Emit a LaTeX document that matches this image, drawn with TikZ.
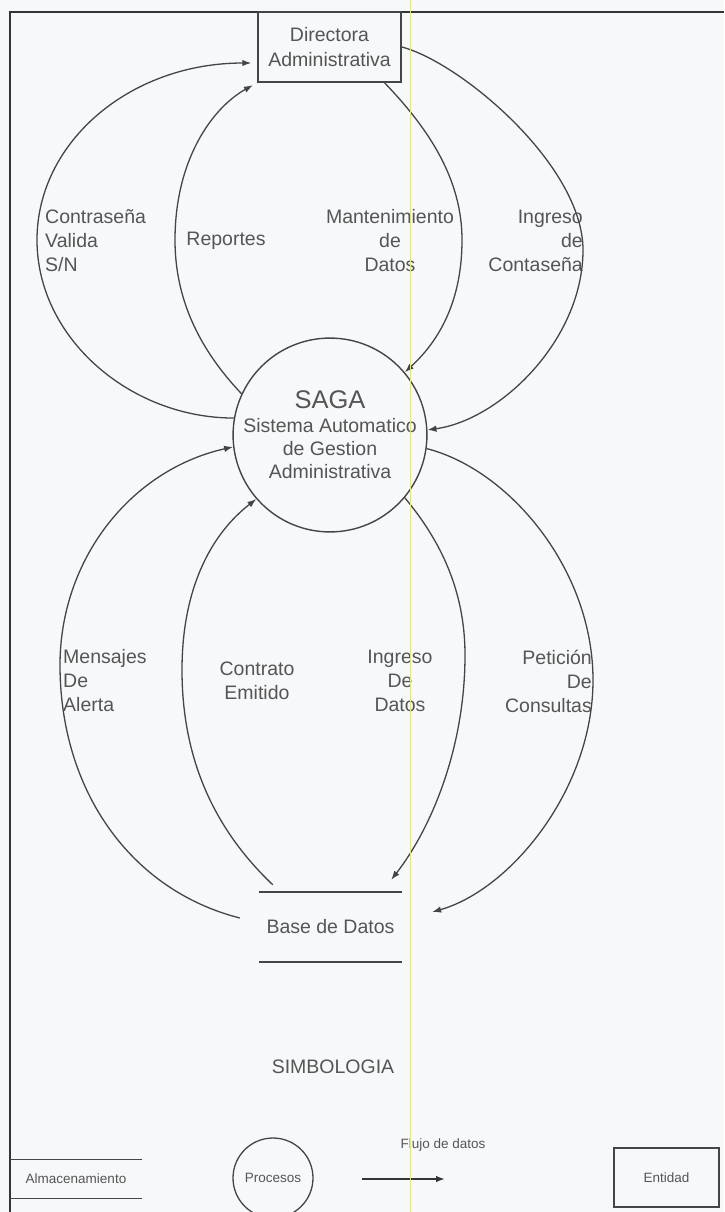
\documentclass[tikz,border=0pt]{standalone}
\usepackage{fontspec}
\setmainfont{Liberation Sans}
\usetikzlibrary{arrows.meta,calc}

\definecolor{paper}{HTML}{F7F8FA}
\definecolor{ink}{HTML}{454545}
\definecolor{txt}{HTML}{555555}
\definecolor{framec}{HTML}{353535}
\definecolor{scanline}{HTML}{EEEE30}

\tikzset{
  flow/.style={draw=ink, line width=1.3pt, -{Latex[length=9pt,width=6.5pt]}},
  lbl/.style={text=txt, inner sep=0pt, font=\fontsize{19.5}{24}\selectfont},
  smalllbl/.style={text=txt, inner sep=0pt, font=\fontsize{13.5}{16}\selectfont},
  entitybox/.style={draw=ink, line width=1.5pt, inner sep=0pt, text=txt},
  procnode/.style={circle, draw=ink, line width=1.4pt, inner sep=0pt, text=txt},
  storenode/.style={inner sep=0pt, text=txt},
  storeline/.style={draw=ink, line width=1.5pt},
  framel/.style={draw=framec, line width=1.8pt}
}

\begin{document}
\begin{tikzpicture}[x=1pt, y=-1pt]
  % page
  \fill[paper] (0,0) rectangle (724,1212);
  \useasboundingbox (0,0) rectangle (724,1212);

  % outer frame (top and left edges only)
  \draw[framel] (724,12) -- (10,12) -- (10,1212);

  % ---- main nodes ----
  \node[entitybox, minimum width=143pt, minimum height=70pt, align=center,
        font=\fontsize{19.5}{25}\selectfont] (dir) at (329.5,47)
        {Directora\\Administrativa};

  \node[procnode, minimum size=192pt, align=center,
        font=\fontsize{19.5}{23}\selectfont] (saga) at (330,435)
        {{\fontsize{25.5}{27}\selectfont SAGA}\\[1pt]Sistema Automatico\\de Gestion\\Administrativa};

  \node[storenode, minimum width=143pt, minimum height=70pt,
        font=\fontsize{19.5}{24}\selectfont] (bd) at (330.5,927) {Base de Datos};
  \draw[storeline] (bd.north west) -- (bd.north east);
  \draw[storeline] (bd.south west) -- (bd.south east);

  % ---- flows between the entity and the process ----
  \draw[flow, shorten >=6pt] (saga.170)
     .. controls (130,418) and (37,338) .. (37,240)
     .. controls (37,142) and (130,63) .. ([yshift=-16pt]dir.west);
  \draw[flow, shorten >=5pt] (saga.155)
     .. controls (200,350) and (175,300) .. (175,240)
     .. controls (175,160) and (212,108) .. (dir.south west);
  \draw[flow] ([xshift=55pt]dir.south)
     .. controls (430,130) and (462,180) .. (462,240)
     .. controls (462,300) and (440,340) .. (saga.40);
  \draw[flow] (dir.east)
     .. controls (460,62) and (583,165) .. (583,250)
     .. controls (583,340) and (500,420) .. (saga.3);

  % ---- flows between the process and the data store ----
  \draw[flow] ([xshift=-19pt,yshift=9pt]bd.west)
     .. controls (130,890) and (60,790) .. (60,665)
     .. controls (60,560) and (130,470) .. (saga.187);
  \draw[flow] ([xshift=14pt,yshift=7pt]bd.north west)
     .. controls (215,830) and (182,760) .. (182,670)
     .. controls (182,590) and (210,535) .. (saga.221);
  \draw[flow] (saga.-40)
     .. controls (440,540) and (465,590) .. (465,655)
     .. controls (465,750) and (430,830) .. ([xshift=-11pt,yshift=12pt]bd.north east);
  \draw[flow] (saga.-8)
     .. controls (510,470) and (593,570) .. (593,680)
     .. controls (593,790) and (510,890) .. ([xshift=30pt,yshift=15pt]bd.east);

  % ---- flow labels ----
  \node[lbl, anchor=west, align=left] (lcontr) at (45,241) {Contraseña\\Valida\\S/N};
  \node[lbl] (lrep) at (226,241) {Reportes};
  \node[lbl, align=center] (lmant) at (390,241) {Mantenimiento\\de\\Datos};
  \node[lbl, anchor=east, align=right] (lingc) at (583,241) {Ingreso\\de\\Contaseña};

  \node[lbl, anchor=west, align=left] (lmens) at (63,681) {Mensajes\\De\\Alerta};
  \node[lbl, align=center] (lcontrato) at (257,681) {Contrato\\Emitido};
  \node[lbl, align=center] (lingd) at (400,681) {Ingreso\\De\\Datos};
  \node[lbl, anchor=east, align=right] (lpet) at (592,681) {Petición\\De\\Consultas};

  % ---- legend ----
  \node[lbl] (simb) at (333,1067) {SIMBOLOGIA};

  \node[storenode, minimum width=132pt, minimum height=38pt,
        font=\fontsize{13.5}{16}\selectfont] (alm) at (76,1179) {Almacenamiento};
  \draw[storeline, line width=1.3pt] (alm.north west) -- (alm.north east);
  \draw[storeline, line width=1.3pt] (alm.south west) -- (alm.south east);

  \node[procnode, minimum size=80pt, line width=1.3pt,
        font=\fontsize{13.5}{16}\selectfont] (proc) at (273,1178) {Procesos};

  \coordinate (fla) at (362,1179);
  \coordinate (flb) at (445,1179);
  \draw[flow, draw=framec, line width=1.6pt] (fla) -- (flb);
  \node[smalllbl] (flujo) at (443,1145) {Flujo de datos};

  \node[entitybox, minimum width=105pt, minimum height=59pt,
        font=\fontsize{13.5}{16}\selectfont] (ent) at (666.5,1177.5) {Entidad};

  % thin yellow rule crossing the sheet
  \draw[scanline, line width=1pt] (410,0) -- (410,1212);
\end{tikzpicture}
\end{document}
